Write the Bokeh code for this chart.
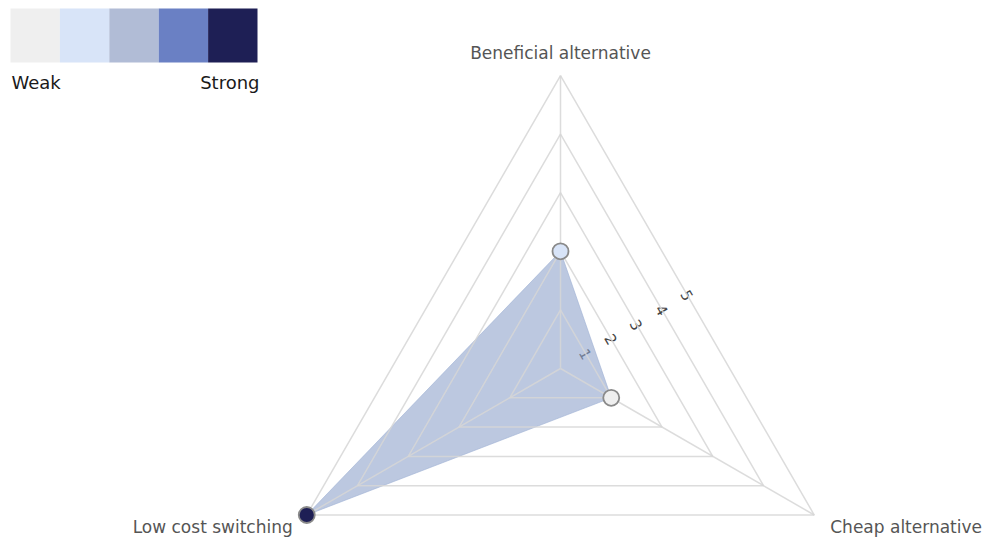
import numpy as np
from bokeh.plotting import figure
from bokeh.models import ColumnDataSource
from bokeh.core.properties import value
from bokeh.embed import file_html
from bokeh.resources import INLINE

# --- chart data ---------------------------------------------------------
dimensions = ["Beneficial alternative", "Cheap alternative", "Low cost switching"]
scores = [2, 1, 5]
levels = [1, 2, 3, 4, 5]
level_colors = ["#efefef", "#d8e4f8", "#b1bcd6", "#6a80c4", "#1e1f55"]
scale_ends = ["Weak", "Strong"]

# --- geometry -------------------------------------------------------------
W, H = 985, 539
CX, CY = 560, 368          # centre of the radar in screen pixels
UNIT = 58.6                # pixels per score unit
FONT = value("DejaVu Sans")

x_range = (-CX / UNIT, (W - CX) / UNIT)
y_range = (-(H - CY) / UNIT, CY / UNIT)


def px(x):
    return (x - CX) / UNIT


def py(y):
    return (CY - y) / UNIT


angles = np.deg2rad([90, -30, 210])
max_level = max(levels)

p = figure(width=W, height=H, x_range=x_range, y_range=y_range,
           min_border=0, toolbar_location=None, output_backend="svg")
p.axis.visible = False
p.grid.visible = False
p.outline_line_color = None
p.background_fill_color = "white"
p.border_fill_color = "white"

# level numbers along the right-hand edge of each ring
lx = [lv * (np.cos(angles[0]) + np.cos(angles[1])) / 2 for lv in levels]
ly = [lv * (np.sin(angles[0]) + np.sin(angles[1])) / 2 for lv in levels]
p.text(x=lx, y=ly, text=[str(lv) for lv in levels], angle=-np.pi / 3,
       text_align="center", text_baseline="middle", text_font=FONT,
       text_font_size="15px", text_color="#444444")

# filled score polygon
sx = [s * np.cos(a) for s, a in zip(scores, angles)]
sy = [s * np.sin(a) for s, a in zip(scores, angles)]
p.patch(sx, sy, fill_color="#8fa3cc", fill_alpha=0.6, line_color="#9fb0d4",
        line_alpha=0.6, line_width=1)

# rings and spokes
ring_xs = [[lv * np.cos(a) for a in angles] + [lv * np.cos(angles[0])] for lv in levels]
ring_ys = [[lv * np.sin(a) for a in angles] + [lv * np.sin(angles[0])] for lv in levels]
p.multi_line(ring_xs, ring_ys, line_color="#d6d6d6", line_width=1.5, line_alpha=0.85)
spoke_xs = [[0, max_level * np.cos(a)] for a in angles]
spoke_ys = [[0, max_level * np.sin(a)] for a in angles]
p.multi_line(spoke_xs, spoke_ys, line_color="#d6d6d6", line_width=1.5, line_alpha=0.85)

# score points, coloured by strength
pts = ColumnDataSource(dict(x=sx, y=sy,
                            color=[level_colors[s - 1] for s in scores]))
p.scatter("x", "y", source=pts, size=16, fill_color="color",
          line_color="#8a8a8a", line_width=1.8)

# dimension labels at the outer vertices
vx = [max_level * np.cos(a) for a in angles]
vy = [max_level * np.sin(a) for a in angles]
p.text(x=[vx[0]], y=[vy[0]], text=[dimensions[0]], text_align="center",
       text_baseline="bottom", y_offset=-13, text_font=FONT,
       text_font_size="17px", text_color="#555555")
p.text(x=[vx[1]], y=[vy[1]], text=[dimensions[1]], text_align="left",
       text_baseline="middle", x_offset=16, y_offset=12, text_font=FONT,
       text_font_size="17px", text_color="#555555")
p.text(x=[vx[2]], y=[vy[2]], text=[dimensions[2]], text_align="right",
       text_baseline="middle", x_offset=-14, y_offset=12, text_font=FONT,
       text_font_size="17px", text_color="#555555")

# strength colour key in the upper left corner
key_left, key_top, key_w, key_h = 10, 8, 49.4, 54
p.quad(left=[px(key_left + i * key_w) for i in range(len(level_colors))],
       right=[px(key_left + (i + 1) * key_w) for i in range(len(level_colors))],
       top=py(key_top), bottom=py(key_top + key_h),
       fill_color=level_colors, line_color=None)
p.text(x=[px(key_left + 1)], y=[py(82)], text=[scale_ends[0]], text_align="left",
       text_baseline="middle", text_font=FONT, text_font_size="18px",
       text_color="#1a1a1a")
p.text(x=[px(key_left + 5 * key_w + 2)], y=[py(82)], text=[scale_ends[1]],
       text_align="right", text_baseline="middle", text_font=FONT,
       text_font_size="18px", text_color="#1a1a1a")

open("out.html", "w").write(file_html(p, INLINE))
